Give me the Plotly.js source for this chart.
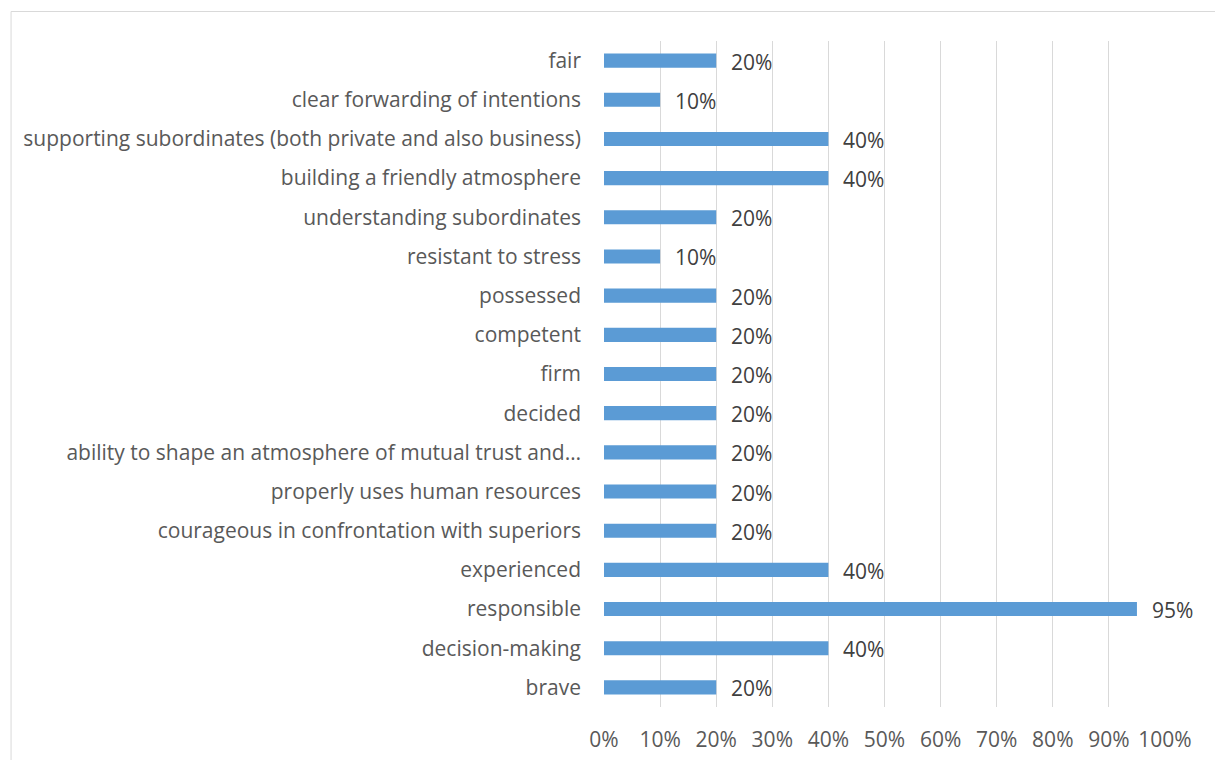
<!DOCTYPE html>
<html>
<head>
<meta charset="utf-8">
<script src="https://cdn.plot.ly/plotly-3.0.1.min.js"></script>
<style>html,body{margin:0;padding:0;background:#fff;}#chart{width:1215px;height:760px;}</style>
</head>
<body>
<div id="chart"></div>
<script>
// Categories listed bottom to top
const categories = [
  "brave",
  "decision-making",
  "responsible",
  "experienced",
  "courageous in confrontation with superiors",
  "properly uses human resources",
  "ability to shape an atmosphere of mutual trust and…",
  "decided",
  "firm",
  "competent",
  "possessed",
  "resistant to stress",
  "understanding subordinates",
  "building a friendly atmosphere",
  "supporting subordinates (both private and also business)",
  "clear forwarding of intentions",
  "fair"
];
const values = [0.20, 0.40, 0.95, 0.40, 0.20, 0.20, 0.20, 0.20, 0.20, 0.20, 0.20, 0.10, 0.20, 0.40, 0.40, 0.10, 0.20];
const valueLabels = ["20%","40%","95%","40%","20%","20%","20%","20%","20%","20%","20%","10%","20%","40%","40%","10%","20%"];
const tickVals = [0,0.1,0.2,0.3,0.4,0.5,0.6,0.7,0.8,0.9,1.0];
const tickText = ["0%","10%","20%","30%","40%","50%","60%","70%","80%","90%","100%"];

const FONT = "'Open Sans', Calibri, Carlito, Lato, sans-serif";
const FS = 21;

const trace = {
  type: "bar",
  orientation: "h",
  x: values,
  y: categories,
  marker: {color: "#5b9bd5"},
  hoverinfo: "none"
};

const annotations = values.map((v, i) => ({
  x: v, y: categories[i], xref: "x", yref: "y",
  text: valueLabels[i], showarrow: false,
  xanchor: "left", yanchor: "middle", xshift: 13, yshift: -1,
  font: {family: FONT, size: FS, color: "#404040"}
}));

const L = 603.5, R = 1165.5, T = 41, B = 707;
const pw = R - L, ph = B - T;
const px = p => (p - L) / pw;
const py = p => (B - p) / ph;

const layout = {
  width: 1215, height: 760,
  margin: {l: L, r: 1215 - R, t: T, b: 760 - B, pad: 0},
  paper_bgcolor: "#ffffff",
  plot_bgcolor: "#ffffff",
  showlegend: false,
  bargap: 0.64,
  font: {family: FONT, size: FS, color: "#595959"},
  xaxis: {
    range: [0, 1],
    tickvals: tickVals,
    ticktext: tickText,
    showgrid: true,
    gridcolor: "#d9d9d9",
    gridwidth: 1,
    zeroline: false,
    showline: false,
    ticks: "",
    ticklabelstandoff: 18,
    tickfont: {family: FONT, size: FS, color: "#595959"},
    fixedrange: true
  },
  yaxis: {
    type: "category",
    categoryorder: "array",
    categoryarray: categories,
    range: [-0.5, categories.length - 0.5],
    showgrid: false,
    zeroline: false,
    showline: false,
    ticks: "",
    ticklabelstandoff: 22,
    tickfont: {family: FONT, size: FS, color: "#595959"},
    fixedrange: true
  },
  annotations: annotations,
  shapes: [{
    type: "rect", xref: "paper", yref: "paper",
    x0: px(9.5), x1: px(1230), y0: py(780), y1: py(11.5),
    line: {color: "#d9d9d9", width: 1},
    fillcolor: "rgba(0,0,0,0)",
    layer: "below"
  }]
};

Plotly.newPlot("chart", [trace], layout, {displayModeBar: false, staticPlot: true});
</script>
</body>
</html>
